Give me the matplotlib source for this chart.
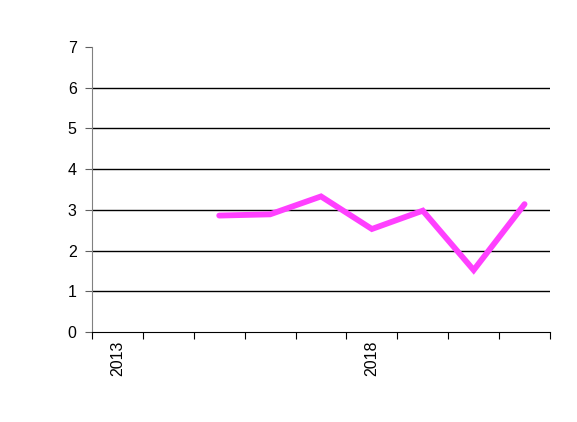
import matplotlib
matplotlib.use("Agg")
import matplotlib.pyplot as plt
import numpy as np

years = ["2013", "2014", "2015", "2016", "2017", "2018", "2019", "2020", "2021"]
values = [None, None, 2.86, 2.89, 3.33, 2.53, 2.98, 1.52, 3.14]
yticks = [0, 1, 2, 3, 4, 5, 6, 7]
shown_labels = {"2013", "2018"}

plt.rcParams['font.family'] = ['Liberation Sans', 'DejaVu Sans']

fig = plt.figure(figsize=(5.77, 4.22), dpi=100)
ax = fig.add_axes([92/577, 1 - 332/422, (550 - 92)/577, (332 - 47)/422])

x = np.arange(len(years)) + 0.5
y = np.array([np.nan if v is None else v for v in values], dtype=float)
ax.plot(x, y, color="#FF40FF", lw=4.2, solid_capstyle="round", solid_joinstyle="miter", zorder=3)

ax.set_xlim(0, len(years))
ax.set_ylim(0, 7)
for g in yticks[1:-1]:
    ax.axhline(g, color="black", lw=1, zorder=1)

ax.set_yticks(yticks)
ax.set_yticklabels([str(t) for t in yticks], fontsize=11.5)
ax.set_xticks(np.arange(len(years) + 1))
ax.set_xticklabels([])
ax.set_xticks(x, minor=True)
ax.set_xticklabels([yr if yr in shown_labels else "" for yr in years], minor=True,
                   rotation=90, fontsize=11.5)
ax.tick_params(axis="x", which="minor", length=0, pad=6)
ax.tick_params(axis="x", which="major", length=5, direction="out", color="black")
ax.tick_params(axis="y", length=5, direction="out", color="#606060", pad=6)

for s in ["top", "right"]:
    ax.spines[s].set_visible(False)
ax.spines["left"].set_color("#808080")
ax.spines["bottom"].set_color("black")

fig.savefig("out.png", dpi=100)
